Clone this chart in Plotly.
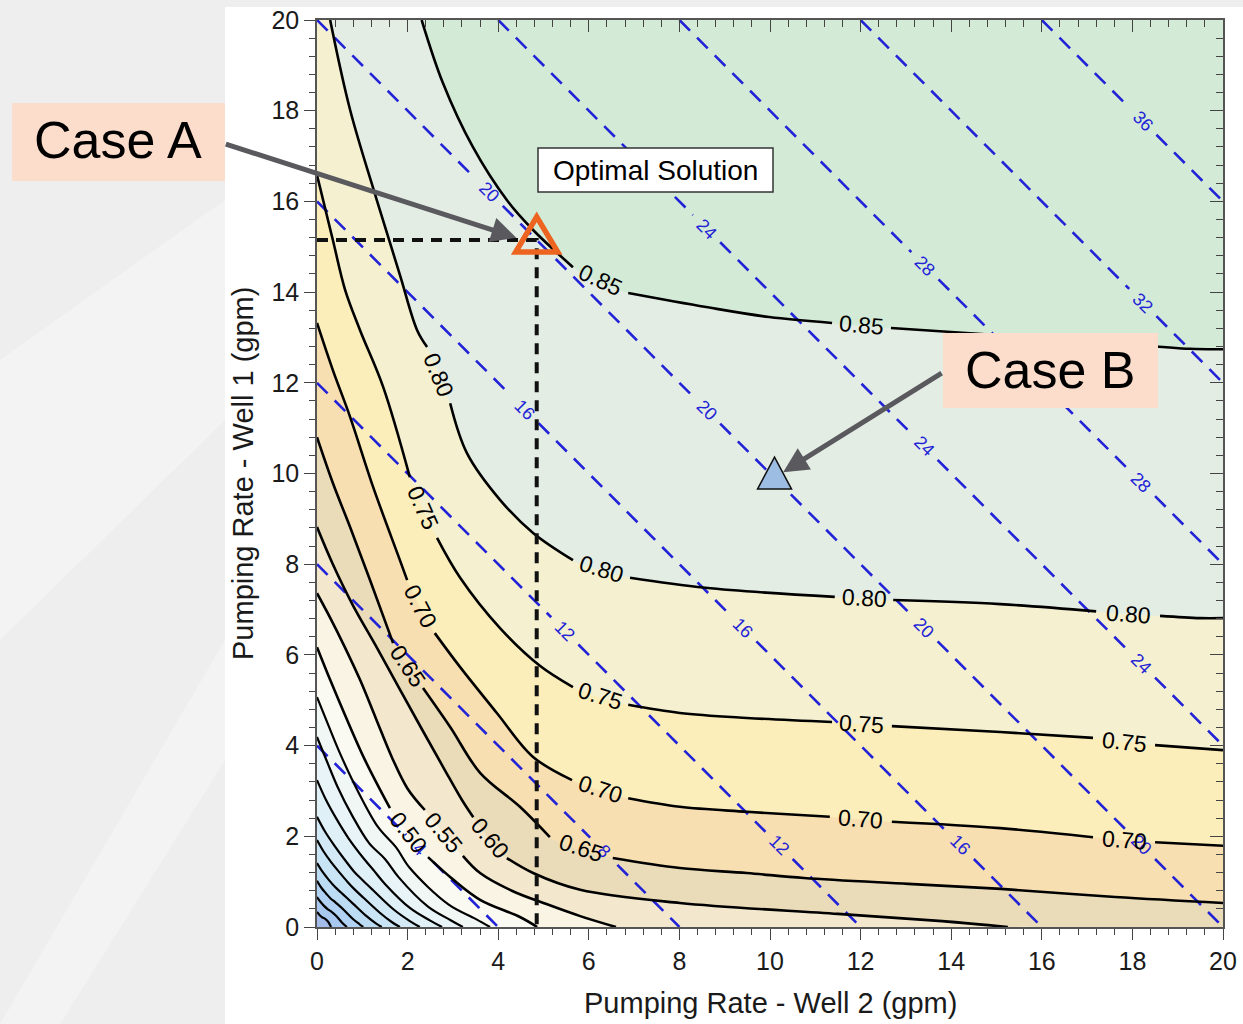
import math
import numpy as np
import plotly.graph_objects as go

# ---------------- figure geometry ----------------
W, H = 1243, 1024
ML, MR, MT, MB = 317, 20, 20, 97
PW, PH = W - ML - MR, H - MT - MB
FONT = "Liberation Sans, Arial, sans-serif"

# ---------------- axes ----------------
x_range = [0, 20]
y_range = [0, 20]
tick_vals = [0, 2, 4, 6, 8, 10, 12, 14, 16, 18, 20]
minor_tick_vals = [round(0.4 * k, 2) for k in range(51)]
x_title = "Pumping Rate - Well 2 (gpm)"
y_title = "Pumping Rate - Well 1 (gpm)"

# ---------------- efficiency contours ----------------
# each contour = list of segments; an inline label sits between consecutive segments
contour_005 = [[(0, 0.33), (0.06, 0.26), (0.12, 0.21), (0.18, 0.18), (0.25, 0.11), (0.31, 0.0)]]
contour_010 = [[(0, 0.66), (0.08, 0.55), (0.16, 0.46), (0.24, 0.39), (0.33, 0.33), (0.42, 0.25), (0.55, 0.1), (0.66, 0.0)]]
contour_015 = [[(0, 1.02), (0.1, 0.86), (0.2, 0.74), (0.3, 0.63), (0.4, 0.55), (0.48, 0.48), (0.6, 0.37), (0.8, 0.17), (0.94, 0.06), (1.02, 0.0)]]
contour_020 = [[(0, 1.41), (0.12, 1.22), (0.26, 1.04), (0.4, 0.88), (0.53, 0.76), (0.65, 0.65), (0.8, 0.51), (1.08, 0.25), (1.3, 0.08), (1.43, 0.0)]]
contour_025 = [[(0, 1.92), (0.15, 1.66), (0.32, 1.42), (0.5, 1.2), (0.67, 1.0), (0.83, 0.83), (1.02, 0.65), (1.38, 0.32), (1.65, 0.11), (1.83, 0.0)]]
contour_030 = [[(0, 2.43), (0.18, 2.1), (0.38, 1.8), (0.6, 1.5), (0.82, 1.22), (1.02, 1.02), (1.25, 0.8), (1.7, 0.38), (2.05, 0.13), (2.27, 0.0)]]
contour_035 = [[(0, 3.24), (0.2, 2.8), (0.42, 2.4), (0.7, 1.95), (1.0, 1.55), (1.25, 1.25), (1.5, 0.95), (2.05, 0.42), (2.5, 0.14), (2.76, 0.0)]]
contour_040 = [[(0, 4.19), (0.22, 3.65), (0.45, 3.1), (0.78, 2.45), (1.15, 1.85), (1.5, 1.5), (1.8, 1.1), (2.45, 0.45), (2.95, 0.15), (3.22, 0.0)]]
contour_045 = [[(0, 5.07), (0.25, 4.45), (0.52, 3.8), (0.9, 3.0), (1.35, 2.2), (1.75, 1.75), (2.05, 1.3), (2.9, 0.5), (3.5, 0.18), (3.82, 0.0)]]
contour_050 = [[(0, 6.17), (0.29, 5.45), (0.62, 4.67), (1.06, 3.68), (1.61, 2.62)],
               [(2.45, 1.54), (3.0, 1.05), (3.6, 0.6), (4.48, 0.22), (4.86, 0.0)]]
contour_055 = [[(0, 7.36), (0.3, 6.8), (0.6, 6.2), (0.95, 5.45), (1.3, 4.6), (1.65, 3.75), (2.0, 3.05), (2.38, 2.58)],
               [(3.22, 1.57), (3.6, 1.19), (4.3, 0.8), (5.08, 0.5), (5.81, 0.24), (6.6, 0.0)]]
contour_060 = [[(0, 8.82), (0.35, 8.0), (0.79, 7.1), (1.3, 6.2), (1.85, 5.2), (2.35, 4.3), (2.8, 3.5), (3.2, 2.8), (3.45, 2.42)],
               [(4.19, 1.52), (4.77, 1.19), (5.81, 0.82), (8.01, 0.53), (11.5, 0.29), (13.8, 0.13), (15.25, 0.0)]]
contour_065 = [[(0, 10.80), (0.35, 9.79), (0.73, 8.82), (1.17, 7.65), (1.68, 6.26)],
               [(2.34, 5.27), (2.94, 4.41), (3.6, 3.40), (4.48, 2.65), (5.14, 1.98)],
               [(6.53, 1.52), (8.01, 1.30), (9.49, 1.19), (10.75, 1.08), (13.05, 0.95), (15.1, 0.84), (17.62, 0.66), (20.0, 0.53)]]
contour_070 = [[(0, 13.32), (0.35, 12.28), (0.73, 11.25), (1.24, 9.70), (1.83, 8.09), (1.99, 7.65)],
               [(2.60, 6.48), (3.16, 5.73), (3.97, 4.72), (4.77, 3.75), (5.63, 3.24)],
               [(6.87, 2.84), (8.01, 2.65), (9.49, 2.54), (11.32, 2.43)],
               [(12.69, 2.32), (15.08, 2.18), (17.13, 1.98)],
               [(18.5, 1.87), (20.0, 1.79)]]
contour_075 = [[(0, 16.58), (0.35, 15.15), (0.62, 14.05), (0.95, 13.16), (1.46, 11.91), (2.05, 9.92)],
               [(2.65, 8.58), (3.16, 7.70), (4.04, 6.59), (4.92, 5.76), (5.65, 5.29)],
               [(6.87, 4.90), (8.01, 4.72), (9.49, 4.61), (11.37, 4.52)],
               [(12.69, 4.43), (15.08, 4.30), (17.13, 4.17)],
               [(18.5, 4.01), (20.0, 3.90)]]
contour_080 = [[(0.29, 20.0), (0.73, 18.02), (1.32, 16.03), (1.83, 14.38), (2.21, 13.16), (2.43, 12.79)],
               [(2.94, 11.55), (3.31, 10.45), (4.04, 9.42), (4.77, 8.69), (5.65, 8.09)],
               [(6.91, 7.70), (8.57, 7.48), (11.43, 7.28)],
               [(12.72, 7.21), (15.08, 7.12), (17.2, 6.96)],
               [(18.61, 6.86), (19.49, 6.81), (20.0, 6.81)]]
contour_085 = [[(2.31, 20.0), (2.78, 18.61), (3.44, 17.2), (4.19, 16.03), (4.77, 15.37), (5.65, 14.55)],
               [(6.87, 13.98), (8.59, 13.67), (9.98, 13.45), (11.37, 13.32)],
               [(12.67, 13.21), (15.08, 13.05), (17.28, 12.9), (19.27, 12.75), (20.0, 12.74)]]

levels = [0.05, 0.10, 0.15, 0.20, 0.25, 0.30, 0.35, 0.40, 0.45,
          0.50, 0.55, 0.60, 0.65, 0.70, 0.75, 0.80, 0.85]
contour_paths = [contour_005, contour_010, contour_015, contour_020, contour_025,
                 contour_030, contour_035, contour_040, contour_045, contour_050,
                 contour_055, contour_060, contour_065, contour_070, contour_075,
                 contour_080, contour_085]
labelled_levels = [0.50, 0.55, 0.60, 0.65, 0.70, 0.75, 0.80, 0.85]
base_color = "#a3bcea"
band_colors = ["#a9c8f0", "#b1d2f2", "#bcdcf3", "#c8e4f5", "#d3eaf6", "#dff0f7",
               "#e8f4f7", "#f0f7f5", "#fbfaf2", "#faf4e4", "#f3e8ce", "#ebdcb9",
               "#f8dfb2", "#fbeeba", "#f4f0d0", "#e4ede4", "#d3ebd6"]

# ---------------- total pumping rate lines ----------------
total_rates = [4, 8, 12, 16, 20, 24, 28, 32, 36]
rate_label_x = [[2.27], [6.33], [5.47, 10.2], [4.59, 9.4, 14.2], [3.8, 8.6, 13.4, 18.2],
                [8.6, 13.4, 18.2], [13.42, 18.2], [18.23], [18.23]]
rate_color = "#2222d6"

# ---------------- cases ----------------
optimal_x, optimal_y = 4.85, 15.15
case_b_x, case_b_y = 10.1, 9.9


def paper_x(px):
    return (px - ML) / PW


def paper_y(py):
    return (H - MB - py) / PH


def text_angle(p, q):
    dxp = (q[0] - p[0]) * PW / 20.0
    dyp = (q[1] - p[1]) * PH / 20.0
    return math.degrees(math.atan2(-dyp, dxp))


# ---------- fill polygons (region above each contour) ----------
M = 3.0
WF = 20 + 2 * M


def frame_s(p):
    x, y = p
    if abs(y + M) < 1e-6:
        return x + M
    if abs(x - (20 + M)) < 1e-6:
        return WF + y + M
    if abs(y - (20 + M)) < 1e-6:
        return 2 * WF + (20 + M - x)
    return 3 * WF + (20 + M - y)


def frame_pt(s):
    s = s % (4 * WF)
    if s <= WF:
        return (-M + s, -M)
    if s <= 2 * WF:
        return (20 + M, -M + s - WF)
    if s <= 3 * WF:
        return (20 + M - (s - 2 * WF), 20 + M)
    return (-M, 20 + M - (s - 3 * WF))


def edge_of(p):
    x, y = p
    if abs(x) < 1e-9:
        return "left"
    if abs(y - 20) < 1e-9:
        return "top"
    if abs(y) < 1e-9:
        return "bottom"
    return "right"


def project(p, edge):
    x, y = p
    return {"left": (-M, y), "top": (x, 20 + M), "bottom": (x, -M), "right": (20 + M, y)}[edge]


def outward(p, q, d=0.6):
    vx, vy = p[0] - q[0], p[1] - q[1]
    n = math.hypot(vx, vy)
    return (p[0] + vx / n * d, p[1] + vy / n * d)


def region_above(segs):
    pts = [p for s in segs for p in s]
    p0, pn = pts[0], pts[-1]
    e0 = outward(p0, pts[1])
    en = outward(pn, pts[-2])
    fs = project(e0, edge_of(p0))
    fe = project(en, edge_of(pn))
    s_e, s_s = frame_s(fe), frame_s(fs)
    if s_s <= s_e:
        s_s += 4 * WF
    n = max(2, int(math.ceil((s_s - s_e) / 1.5)))
    walk = [frame_pt(s_e + (s_s - s_e) * k / n) for k in range(n + 1)]
    path = [fs, e0] + pts + [en] + walk[:-1]
    return [p[0] for p in path], [p[1] for p in path]


fig = go.Figure()

# base colour of the whole plotting area
fig.add_trace(go.Scatter(x=[-1, 21, 21, -1], y=[-1, -1, 21, 21], fill="toself", mode="lines",
                         fillcolor=base_color, line=dict(width=0.5, color=base_color),
                         hoverinfo="skip", showlegend=False))

for segs, col in zip(contour_paths, band_colors):
    fx, fy = region_above(segs)
    fig.add_trace(go.Scatter(x=fx, y=fy, fill="toself", mode="lines", fillcolor=col,
                             line=dict(width=0.5, color=col, shape="spline"),
                             hoverinfo="skip", showlegend=False))

# ---------- total pumping-rate dashed lines ----------
annotations = []
gap = 0.3
for c, lxs in zip(total_rates, rate_label_x):
    xs0, xs1 = max(0, c - 20), min(20, c)
    xs = [xs0]
    for lx in lxs:
        xs += [lx - gap, None, lx + gap]
    xs.append(xs1)
    ys = [None if v is None else c - v for v in xs]
    fig.add_trace(go.Scatter(x=xs, y=ys, mode="lines",
                             line=dict(color=rate_color, width=2.6, dash="15px,10px"),
                             hoverinfo="skip", showlegend=False))
    for lx in lxs:
        annotations.append(dict(x=lx, y=c - lx, xref="x", yref="y", text=str(c), showarrow=False,
                                xanchor="center", yanchor="middle",
                                textangle=text_angle((0, c), (c, 0)),
                                font=dict(family=FONT, size=18, color=rate_color)))

# ---------- black contour lines + inline labels ----------
for lvl, segs in zip(levels, contour_paths):
    xs, ys = [], []
    for i, s in enumerate(segs):
        if i:
            xs.append(None)
            ys.append(None)
        xs += [p[0] for p in s]
        ys += [p[1] for p in s]
    fig.add_trace(go.Scatter(x=xs, y=ys, mode="lines",
                             line=dict(color="black", width=2.6 if lvl >= 0.5 else 2.2, shape="spline"),
                             hoverinfo="skip", showlegend=False))
    if lvl in labelled_levels:
        for a, b in zip(segs[:-1], segs[1:]):
            p, q = a[-1], b[0]
            annotations.append(dict(x=(p[0] + q[0]) / 2, y=(p[1] + q[1]) / 2, xref="x", yref="y",
                                    text=f"{lvl:.2f}", showarrow=False, textangle=text_angle(p, q),
                                    xanchor="center", yanchor="middle",
                                    font=dict(family=FONT, size=23, color="black")))

# ---------- optimal-solution guide lines ----------
fig.add_trace(go.Scatter(x=[0, optimal_x, optimal_x], y=[optimal_y, optimal_y, 0], mode="lines",
                         line=dict(color="#111111", width=4, dash="11px,8px"),
                         hoverinfo="skip", showlegend=False))

# dummy trace for the mirrored (top/right) tick axes
fig.add_trace(go.Scatter(x=[0], y=[0], xaxis="x2", yaxis="y2", mode="markers",
                         marker=dict(opacity=0), hoverinfo="skip", showlegend=False))

shapes = []
# slide background: white panel + faint streaks in grey area
shapes.append(dict(type="rect", xref="paper", yref="paper", layer="below",
                   x0=paper_x(225), x1=paper_x(W + 5), y0=paper_y(H + 5), y1=paper_y(7),
                   fillcolor="white", line=dict(width=0)))
shapes.append(dict(type="path", xref="paper", yref="paper", layer="below",
                   path=f"M{paper_x(0)},{paper_y(360)} L{paper_x(225)},{paper_y(200)} "
                        f"L{paper_x(225)},{paper_y(420)} L{paper_x(0)},{paper_y(640)} Z",
                   fillcolor="rgba(255,255,255,0.3)", line=dict(width=0)))
shapes.append(dict(type="path", xref="paper", yref="paper", layer="below",
                   path=f"M{paper_x(0)},{paper_y(1024)} L{paper_x(225)},{paper_y(640)} "
                        f"L{paper_x(225)},{paper_y(760)} L{paper_x(60)},{paper_y(1024)} Z",
                   fillcolor="rgba(255,255,255,0.3)", line=dict(width=0)))

# case markers (equilateral triangles anchored at the data points)
shapes.append(dict(type="path", xref="x", yref="y", xsizemode="pixel", ysizemode="pixel",
                   xanchor=optimal_x, yanchor=optimal_y,
                   path="M0,23 L21,-12 L-21,-12 Z", fillcolor="rgba(0,0,0,0)",
                   line=dict(color="#ec6420", width=5.5)))
shapes.append(dict(type="path", xref="x", yref="y", xsizemode="pixel", ysizemode="pixel",
                   xanchor=case_b_x, yanchor=case_b_y,
                   path="M0,21 L17,-11 L-17,-11 Z", fillcolor="#9dbde2",
                   line=dict(color="#111111", width=1.5)))

# text boxes
shapes.append(dict(type="rect", xref="paper", yref="paper", x0=paper_x(12), x1=paper_x(225),
                   y0=paper_y(181), y1=paper_y(103), fillcolor="#fcdccb", line=dict(width=0)))
shapes.append(dict(type="rect", xref="paper", yref="paper", x0=paper_x(943), x1=paper_x(1158),
                   y0=paper_y(408), y1=paper_y(333), fillcolor="#fcdccb", line=dict(width=0)))
shapes.append(dict(type="rect", xref="paper", yref="paper", x0=paper_x(538), x1=paper_x(773),
                   y0=paper_y(192), y1=paper_y(148), fillcolor="white",
                   line=dict(color="#333333", width=1.5)))

C = dict(xanchor="center", yanchor="middle", showarrow=False)
annotations += [
    dict(x=paper_x(118), y=paper_y(140), xref="paper", yref="paper", text="Case A",
         font=dict(family=FONT, size=52, color="black"), **C),
    dict(x=paper_x(1050), y=paper_y(370), xref="paper", yref="paper", text="Case B",
         font=dict(family=FONT, size=52, color="black"), **C),
    dict(x=paper_x(655.5), y=paper_y(170), xref="paper", yref="paper", text="Optimal Solution",
         font=dict(family=FONT, size=28, color="black"), **C),
    # axis titles
    dict(x=0.5, y=paper_y(1003), xref="paper", yref="paper", text=x_title,
         font=dict(family=FONT, size=29, color="#1a1a1a"), **C),
    dict(x=paper_x(243), y=paper_y(474), xref="paper", yref="paper", text=y_title,
         textangle=-90, font=dict(family=FONT, size=29, color="#1a1a1a"), **C),
    # arrows
    dict(x=optimal_x - 0.45, y=optimal_y + 0.05, xref="x", yref="y", text="", showarrow=True,
         ax=-292, ay=-94, arrowhead=2, arrowsize=1.0, arrowwidth=5, arrowcolor="#5a5a5e", standoff=0),
    dict(x=case_b_x + 0.19, y=case_b_y + 0.13, xref="x", yref="y", text="", showarrow=True,
         ax=160, ay=-100, arrowhead=2, arrowsize=1.0, arrowwidth=5, arrowcolor="#5a5a5e", standoff=0),
]

tickfont = dict(family=FONT, size=25, color="#1a1a1a")
axis_common = dict(tickmode="array", tickvals=tick_vals, showgrid=False, zeroline=False,
                   automargin=False)
fig.update_layout(
    width=W, height=H, autosize=False,
    margin=dict(l=ML, r=MR, t=MT, b=MB, pad=0, autoexpand=False),
    paper_bgcolor="#eeeeee", plot_bgcolor="rgba(0,0,0,0)",
    showlegend=False, hovermode=False,
    xaxis=dict(range=x_range, ticks="outside", ticklen=11, tickwidth=1.3, tickcolor="#444",
               minor=dict(tickmode="array", tickvals=minor_tick_vals, ticks="outside", ticklen=6,
                          tickwidth=1.1, tickcolor="#444"),
               showline=True, linecolor="#555", linewidth=1.5, mirror=True, tickfont=tickfont,
               **axis_common),
    yaxis=dict(range=y_range, ticks="outside", ticklen=11, tickwidth=1.3, tickcolor="#444",
               minor=dict(tickmode="array", tickvals=minor_tick_vals, ticks="outside", ticklen=6,
                          tickwidth=1.1, tickcolor="#444"),
               showline=True, linecolor="#555", linewidth=1.5, mirror=True, tickfont=tickfont,
               **axis_common),
    xaxis2=dict(range=x_range, overlaying="x", side="top", ticks="inside", ticklen=12, tickwidth=1.3,
                tickcolor="#444", showticklabels=False, showline=False,
                minor=dict(tickmode="array", tickvals=minor_tick_vals, ticks="inside", ticklen=7,
                           tickwidth=1.1, tickcolor="#444"), **axis_common),
    yaxis2=dict(range=y_range, overlaying="y", side="right", ticks="inside", ticklen=13, tickwidth=1.3,
                tickcolor="#444", showticklabels=False, showline=False,
                minor=dict(tickmode="array", tickvals=minor_tick_vals, ticks="inside", ticklen=7,
                           tickwidth=1.1, tickcolor="#444"), **axis_common),
    shapes=shapes,
    annotations=annotations,
)

fig.write_html("out.html")
